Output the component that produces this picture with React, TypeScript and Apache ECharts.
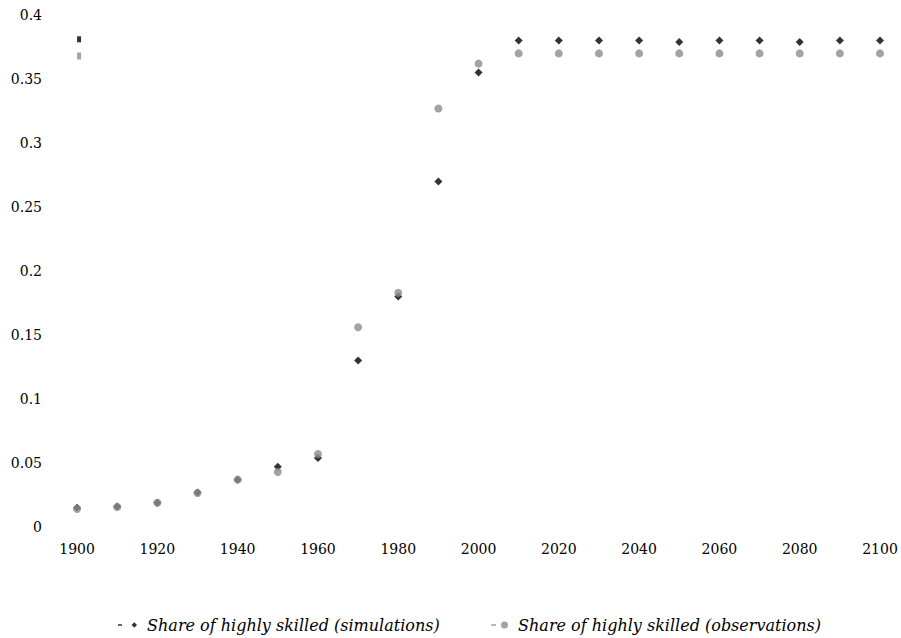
import React, { useEffect, useRef } from "react";
import * as echarts from "echarts";

const years = [1900, 1910, 1920, 1930, 1940, 1950, 1960, 1970, 1980, 1990, 2000, 2010, 2020, 2030, 2040, 2050, 2060, 2070, 2080, 2090, 2100];
const simulations = [0.015, 0.016, 0.019, 0.027, 0.037, 0.047, 0.054, 0.13, 0.18, 0.27, 0.355, 0.38, 0.38, 0.38, 0.38, 0.379, 0.38, 0.38, 0.379, 0.38, 0.38];
const observations = [0.014, 0.0156, 0.019, 0.0266, 0.037, 0.043, 0.057, 0.156, 0.183, 0.327, 0.362, 0.37, 0.37, 0.37, 0.37, 0.37, 0.37, 0.37, 0.37, 0.37, 0.37];
// partially drawn marks near 1900 at the top of the plot
const simStray = [[1900.5, 0.381]];
const obsStray = [[1900.5, 0.368]];
const xTicks = [1900, 1920, 1940, 1960, 1980, 2000, 2020, 2040, 2060, 2080, 2100];
const seriesNames = ["Share of highly skilled (simulations)", "Share of highly skilled (observations)"];

const FONT = "DejaVu Serif";

export default function App() {
  const ref = useRef<HTMLDivElement>(null);
  useEffect(() => {
    if (!ref.current) return;
    const chart = echarts.init(ref.current, null, { renderer: "svg" });
    const simData = years.map((y, i) => [y, simulations[i]]);
    const obsData = years.map((y, i) => [y, observations[i]]);
    chart.setOption({
      animation: false,
      backgroundColor: "#ffffff",
      grid: { left: 57, right: 21, top: 15, bottom: 111, containLabel: false },
      xAxis: {
        type: "value",
        min: 1895,
        max: 2100,
        axisLine: { show: false },
        axisTick: { show: false },
        splitLine: { show: false },
        axisLabel: {
          customValues: xTicks,
          formatter: (v: number) => String(v),
          color: "#000",
          fontSize: 14,
          fontFamily: FONT,
          margin: 15,
        },
      },
      yAxis: {
        type: "value",
        min: 0,
        max: 0.4,
        interval: 0.05,
        axisLine: { show: false },
        axisTick: { show: false },
        splitLine: { show: false },
        axisLabel: {
          formatter: (v: number) => String(Math.round(v * 100) / 100),
          color: "#000",
          fontSize: 14,
          fontFamily: FONT,
          margin: 15,
        },
      },
      legend: [
        {
          data: [
            {
              name: seriesNames[0],
              icon: "path://M0,2.75h4v1.5h-4z M16.5,0.75L19.25,3.5L16.5,6.25L13.75,3.5Z",
            },
          ],
          formatter: " {name}",
          left: 113,
          top: 612,
          itemWidth: 19,
          itemHeight: 6,
          textStyle: { fontFamily: FONT, fontSize: 16, fontStyle: "italic", color: "#000" },
        },
        {
          data: [
            {
              name: seriesNames[1],
              icon: "path://M0,2.75h5v1.5h-5z M10,3.5a3.5,3.5 0 1,0 7,0a3.5,3.5 0 1,0 -7,0z",
            },
          ],
          formatter: " {name}",
          left: 486,
          top: 612,
          itemWidth: 17,
          itemHeight: 7,
          textStyle: { fontFamily: FONT, fontSize: 16, fontStyle: "italic", color: "#000" },
        },
      ],
      series: [
        {
          name: seriesNames[0],
          type: "scatter",
          symbol: "diamond",
          symbolSize: 8,
          itemStyle: { color: "#000000" },
          data: simData,
          z: 2,
        },
        {
          name: seriesNames[1],
          type: "scatter",
          symbol: "circle",
          symbolSize: 8,
          itemStyle: { color: "#8c8c8c" },
          data: obsData,
          z: 3,
        },
        {
          name: seriesNames[0],
          type: "scatter",
          symbol: "rect",
          symbolSize: [4, 6],
          itemStyle: { color: "#000000" },
          data: simStray,
          z: 2,
        },
        {
          name: seriesNames[1],
          type: "scatter",
          symbol: "rect",
          symbolSize: [4, 7],
          itemStyle: { color: "#8c8c8c" },
          data: obsStray,
          z: 3,
        },
      ],
    });
    return () => chart.dispose();
  }, []);
  return (
    <div
      ref={ref}
      style={{ position: "absolute", left: 0, top: 0, width: 901, height: 638 }}
    />
  );
}
